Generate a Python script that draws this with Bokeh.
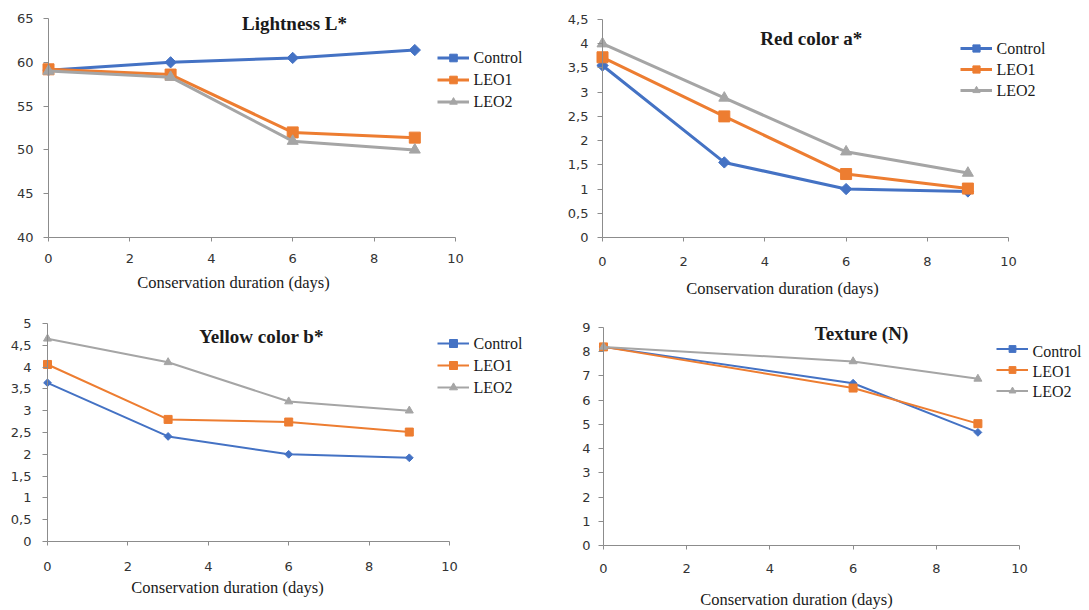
from bokeh.plotting import figure
from bokeh.models import Range1d, FixedTicker, Legend, LegendItem, Label
from bokeh.layouts import column, row
from bokeh.embed import file_html
from bokeh.resources import INLINE

# ---------------- data ----------------
days = [0, 3, 6, 9]
texture_days = [0, 6, 9]
series_names = ["Control", "LEO1", "LEO2"]
series_colors = ["#4472C4", "#ED7D31", "#A5A5A5"]

lightness_control = [59.1, 60.0, 60.5, 61.4]
lightness_leo1 = [59.2, 58.6, 52.0, 51.4]
lightness_leo2 = [59.0, 58.3, 51.0, 50.0]

red_control = [3.55, 1.55, 1.0, 0.95]
red_leo1 = [3.72, 2.5, 1.31, 1.01]
red_leo2 = [4.0, 2.88, 1.77, 1.33]

yellow_control = [3.64, 2.41, 2.0, 1.92]
yellow_leo1 = [4.06, 2.8, 2.74, 2.51]
yellow_leo2 = [4.65, 4.11, 3.21, 3.0]

texture_control = [8.2, 6.7, 4.67]
texture_leo1 = [8.2, 6.5, 5.03]
texture_leo2 = [8.2, 7.6, 6.88]

x_ticks = [0, 2, 4, 6, 8, 10]
x_tick_labels = ["0", "2", "4", "6", "8", "10"]
lightness_ticks = [40, 45, 50, 55, 60, 65]
lightness_tick_labels = ["40", "45", "50", "55", "60", "65"]
red_ticks = [0, 0.5, 1, 1.5, 2, 2.5, 3, 3.5, 4, 4.5]
red_tick_labels = ["0", "0,5", "1", "1,5", "2", "2,5", "3", "3,5", "4", "4,5"]
yellow_ticks = [0, 0.5, 1, 1.5, 2, 2.5, 3, 3.5, 4, 4.5, 5]
yellow_tick_labels = ["0", "0,5", "1", "1,5", "2", "2,5", "3", "3,5", "4", "4,5", "5"]
texture_ticks = [0, 1, 2, 3, 4, 5, 6, 7, 8, 9]
texture_tick_labels = ["0", "1", "2", "3", "4", "5", "6", "7", "8", "9"]

x_label = "Conservation duration (days)"

AXIS_COLOR = "#8c8c8c"
TEXT_COLOR = "#1a1a1a"
SERIF = "Liberation Serif"


def make_panel(title, xs, ys_list, y_ticks, y_labels, g):
    W, H = g["W"], g["H"]
    ox, oy = g["origin"]                     # page position of the canvas
    left, top = g["left"], g["top"]          # axis origin inside the canvas
    axis_len, axis_h = g["axis_len"], g["axis_h"]
    y0, y1 = y_ticks[0], y_ticks[-1]
    ux = x_ticks[-1] / axis_len              # data units per pixel
    uy = (y1 - y0) / axis_h
    frame_left = ox + left
    axis_bottom = oy + top + axis_h

    def dx(px):
        return (px - frame_left) * ux

    def dy(py):
        return y0 + (axis_bottom - py) * uy

    # the plotting frame covers the whole canvas; both axes sit at fixed positions
    p = figure(width=W, height=H,
               x_range=Range1d(-left * ux, (W - left) * ux),
               y_range=Range1d(y0 - (H - top - axis_h) * uy, y1 + top * uy),
               output_backend="svg", toolbar_location=None,
               min_border_left=0, min_border_right=0,
               min_border_top=0, min_border_bottom=0)
    p.outline_line_color = None
    p.xgrid.visible = False
    p.ygrid.visible = False
    p.background_fill_color = "white"
    p.border_fill_color = "white"

    p.xaxis.ticker = FixedTicker(ticks=x_ticks)
    p.xaxis.bounds = (x_ticks[0], x_ticks[-1])
    p.xaxis.fixed_location = y0
    p.xaxis.major_label_overrides = dict(zip(x_ticks, x_tick_labels))
    p.yaxis.ticker = FixedTicker(ticks=y_ticks)
    p.yaxis.bounds = (y0, y1)
    p.yaxis.fixed_location = x_ticks[0]
    p.yaxis.major_label_overrides = dict(zip(y_ticks, y_labels))
    for ax in (p.xaxis, p.yaxis):
        ax.axis_line_color = AXIS_COLOR
        ax.major_tick_line_color = AXIS_COLOR
        ax.minor_tick_line_color = None
        ax.major_tick_in = 0
        ax.major_label_text_font = "DejaVu Sans"
        ax.major_label_text_font_size = "13px"
        ax.major_label_text_color = "#333333"
    p.xaxis.major_tick_out = 4
    p.yaxis.major_tick_out = 5
    p.xaxis.major_label_standoff = g["xstand"]
    p.yaxis.major_label_standoff = g["ystand"]

    markers = [("square", 0.785398, g["dsize"]), ("square", 0.0, g["ssize"]),
               ("triangle", 0.0, g["tsize"])]
    items = []
    for name, color, ys, (mk, ang, sz) in zip(series_names, series_colors, ys_list, markers):
        rl = p.line(xs, ys, line_color=color, line_width=g["lw"])
        rm = p.scatter(xs, ys, marker=mk, angle=ang, size=sz,
                       fill_color=color, line_color=color)
        items.append(LegendItem(label=name, renderers=[rl, rm]))

    gw, gh, sp = 32, g["gh"], g["sp"]
    glyph_left, row0 = g["legend_at"]
    leg_bottom = row0 - gh / 2 + 3 * gh + 2 * sp
    legend = Legend(items=items,
                    location=(glyph_left - ox, oy + H - leg_bottom),
                    glyph_width=gw, glyph_height=gh, label_height=gh,
                    spacing=sp, padding=0, margin=0, label_standoff=4,
                    border_line_color=None, background_fill_alpha=0,
                    label_text_alpha=0, label_text_color="white",
                    label_text_font_size="16px")
    p.add_layout(legend, "center")

    # legend texts drawn as labels (the legend's own label font is not applied)
    for i, name in enumerate(series_names):
        p.add_layout(Label(x=dx(glyph_left + gw + 4), y=dy(row0 + i * (gh + sp)),
                           text=name, text_align="left", text_baseline="middle",
                           text_font=SERIF, text_font_size="16px",
                           text_color=TEXT_COLOR))

    tx, ty = g["title_at"]
    p.add_layout(Label(x=dx(tx), y=dy(ty), text=title,
                       text_align="center", text_baseline="middle",
                       text_font=SERIF, text_font_style="bold",
                       text_font_size="19px", text_color=TEXT_COLOR))

    lx, ly = g["xlabel_at"]
    p.add_layout(Label(x=dx(lx), y=dy(ly), text=x_label,
                       text_align="center", text_baseline="middle",
                       text_font=SERIF, text_font_size="16.5px",
                       text_color=TEXT_COLOR))
    return p


g1 = dict(W=553, H=305, origin=(0, 0), left=48, top=18, axis_len=407, axis_h=219,
          legend_at=(437, 57), gh=19, sp=3, title_at=(294, 23), xlabel_at=(233, 282),
          xstand=12, ystand=10, lw=3, dsize=8, ssize=11, tsize=11)
g2 = dict(W=536, H=305, origin=(553, 0), left=49, top=19, axis_len=406, axis_h=218,
          legend_at=(960, 48), gh=18, sp=3, title_at=(811, 38), xlabel_at=(782, 288),
          xstand=15, ystand=9, lw=3, dsize=8, ssize=11, tsize=11)
g3 = dict(W=553, H=305, origin=(0, 305), left=47, top=18, axis_len=402, axis_h=218,
          legend_at=(437, 343), gh=20, sp=2, title_at=(261, 336), xlabel_at=(227, 587),
          xstand=16, ystand=11, lw=2, dsize=5.5, ssize=8, tsize=8)
g4 = dict(W=536, H=305, origin=(553, 305), left=50, top=22, axis_len=416, axis_h=218,
          legend_at=(996, 351), gh=17, sp=3, title_at=(861, 333), xlabel_at=(796, 599),
          xstand=14, ystand=8, lw=2, dsize=5.5, ssize=8, tsize=8)

p1 = make_panel("Lightness L*", days,
                [lightness_control, lightness_leo1, lightness_leo2],
                lightness_ticks, lightness_tick_labels, g1)
p2 = make_panel("Red color a*", days,
                [red_control, red_leo1, red_leo2],
                red_ticks, red_tick_labels, g2)
p3 = make_panel("Yellow color b*", days,
                [yellow_control, yellow_leo1, yellow_leo2],
                yellow_ticks, yellow_tick_labels, g3)
p4 = make_panel("Texture (N)", texture_days,
                [texture_control, texture_leo1, texture_leo2],
                texture_ticks, texture_tick_labels, g4)

layout = column(row(p1, p2), row(p3, p4))

open("out.html", "w").write(file_html(layout, INLINE))
